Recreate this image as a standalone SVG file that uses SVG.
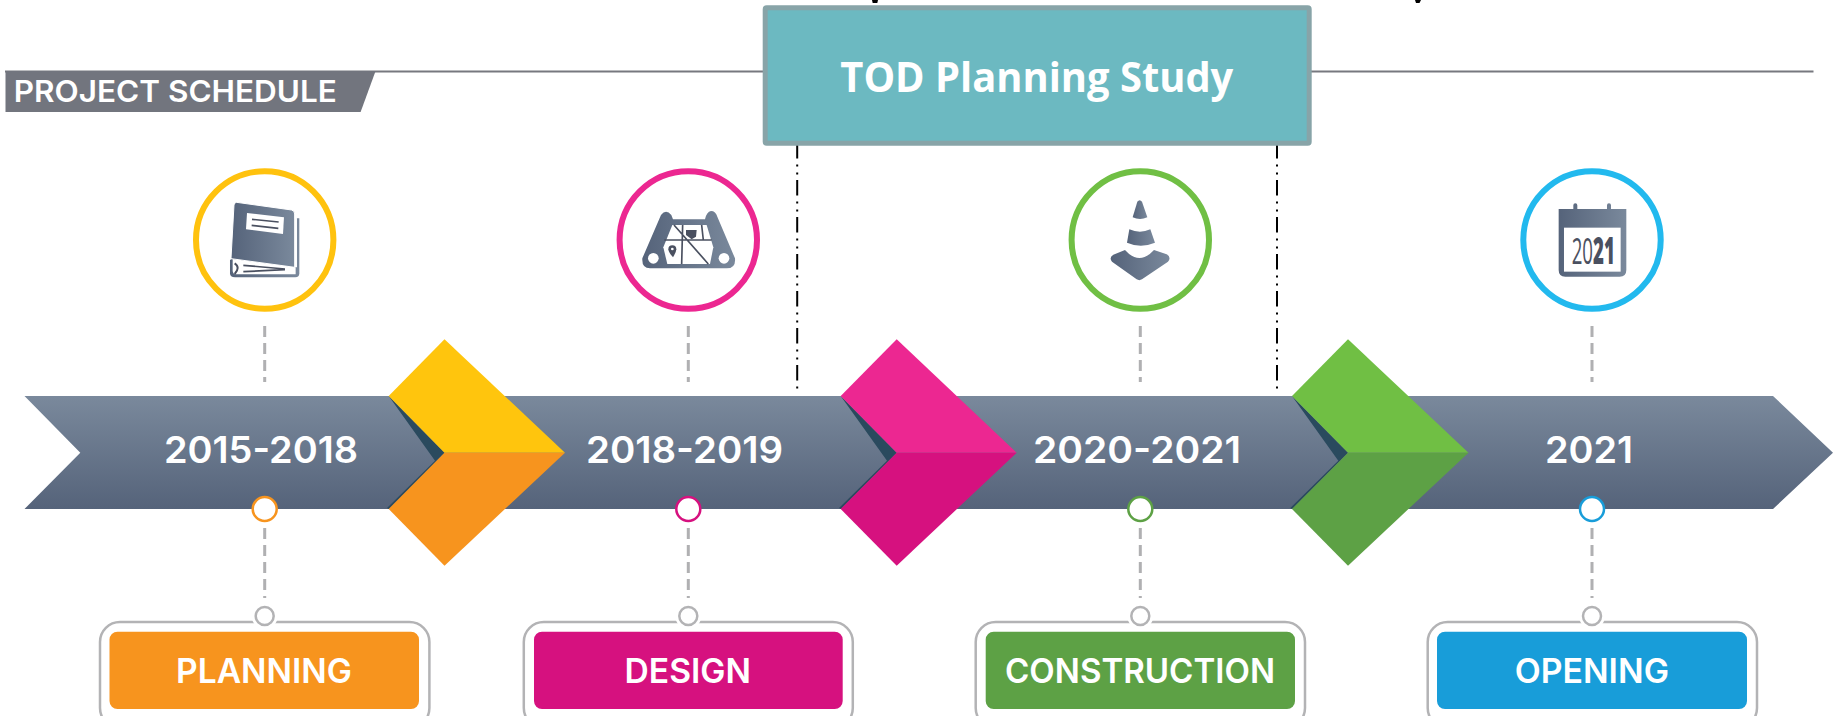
<svg xmlns="http://www.w3.org/2000/svg" width="1837" height="716" viewBox="0 0 1837 716">
<defs>
<linearGradient id="rib" x1="0" y1="0" x2="0" y2="1"><stop offset="0" stop-color="#7A899C"/><stop offset="1" stop-color="#55637A"/></linearGradient>
<linearGradient id="ico" x1="0" y1="0" x2="1" y2="0"><stop offset="0" stop-color="#55637A"/><stop offset="1" stop-color="#7A899C"/></linearGradient>
</defs>
<style>
.t{font-family:"Inter","Liberation Sans",sans-serif;font-weight:600;fill:#fff;text-anchor:start}
.yr{font-size:37px}
.lb{font-size:34px}
.dash{stroke:#b0b0b2;stroke-width:3;stroke-dasharray:11 6;fill:none}
.dd{stroke:#000;stroke-width:2;stroke-dasharray:15.5 6 2 6 2 5.5;fill:none}
.halo{fill:#fff}
.gr{fill:#fff;stroke:#b3b3b5;stroke-width:2.5}
.fr{fill:none;stroke:#b3b3b5;stroke-width:2.5}
.ic{fill:url(#ico)}
.dk{fill:#4a5060}
.sh{fill:#2A4A5E}
.ln{stroke:#4a5060;fill:none}
</style>
<rect width="1837" height="716" fill="#fff"/>
<g id="header">
<line x1="5" y1="71.5" x2="1813.5" y2="71.5" stroke="#77787f" stroke-width="2"/>
<polygon points="5.5,71 375.6,71 360.6,112 5.5,112" fill="#72757E"/>
<text x="13.8" y="102" class="t" font-size="30" textLength="323" lengthAdjust="spacingAndGlyphs">PROJECT SCHEDULE</text>
</g>
<g id="title-clip"><path d="M872,0h6l-.7,3h-4.6z M1415,0h6l-1.5,3h-3.5z" fill="#000"/></g>
<g id="ribbon">
<polygon points="24.5,396 1773,396 1833,452.7 1773,509 24.5,509 80.3,452.7" fill="url(#rib)"/>
</g>
<g id="connectors">
<path class="dd" d="M797.2,143V392M1277,143V392"/>
<path class="dash" d="M264.7,326V382M264.7,528V598M688.3,326V382M688.3,528V598M1140.3,326V382M1140.3,528V598M1592,326V382M1592,528V598"/>
</g>
<g id="tod">
<rect x="765.2" y="7.8" width="544" height="135.5" rx="1.5" fill="#6CB9C1" stroke="#88A4A8" stroke-width="5"/>
<text x="840.3" y="91.7" font-family="'Open Sans','Liberation Sans',sans-serif" font-weight="700" font-size="42" fill="#fff" textLength="393" lengthAdjust="spacingAndGlyphs">TOD Planning Study</text>
</g>
<g id="marker-1">
<polygon class="sh" points="388.7,396 444.5,452.7 388.7,509 387,508 435,460.7"/>
<polygon points="388.7,396 444.5,339.3 565,452.7 444.5,452.7" fill="#FFC50D"/>
<polygon points="388.7,509 444.5,452.7 565,452.7 444.5,565.7" fill="#F7941E"/>
</g>
<g id="marker-2">
<polygon class="sh" points="840.7,396 896.7,452.7 840.7,509 839,508 887,460.7"/>
<polygon points="840.7,396 896.7,339.3 1016.7,452.7 896.7,452.7" fill="#EC2791"/>
<polygon points="840.7,509 896.7,452.7 1016.7,452.7 896.7,565.7" fill="#D6117F"/>
</g>
<g id="marker-3">
<polygon class="sh" points="1292,396 1348,452.7 1292,509 1290.3,508 1338.3,460.7"/>
<polygon points="1292,396 1348,339.3 1468.5,452.7 1348,452.7" fill="#70BF44"/>
<polygon points="1292,509 1348,452.7 1468.5,452.7 1348,565.7" fill="#5DA145"/>
</g>
<g id="phase-planning">
<circle cx="264.7" cy="240" r="68.7" fill="#fff" stroke="#FFC20E" stroke-width="6"/>
<g transform="translate(180,160) scale(.3333)">
<path class="ic" d="M150,300 L345,175 L358,175 L358,340 Q358,352 346,352 L165,352 Q150,352 150,340Z"/>
<path fill="#fff" d="M158,297 L347,322 L347,343 L170,343 Q158,343 158,332Z"/>
<path fill="#fff" d="M344,160 L351,175 L351,322 L344,322Z"/>
<path class="ic" stroke="#fff" stroke-width="3" d="M170,127 L335,150 Q344,152 344,162 L344,322 L153,296 L162,135 Q163,127 170,127Z"/>
<polygon fill="#fff" points="201,159 312,172 309,222 198,208"/>
<path class="ln" stroke-width="5" d="M216,178L296,186M215,196L295,205"/>
<path class="ln" stroke-width="5" d="M190,316L315,327M190,335L315,329"/>
<path class="ln" stroke-width="6" d="M164,310Q182,322 164,342"/>
</g>
<rect x="109.5" y="631.7" width="309.5" height="77.3" rx="8" fill="#F7941E"/>
<rect class="fr" x="100" y="622" width="329.4" height="106" rx="20"/>
<circle class="halo" cx="264.7" cy="616" r="13"/>
<circle class="gr" cx="264.7" cy="616" r="9"/>
<circle cx="264.7" cy="509" r="12" fill="#fff" stroke="#F7941E" stroke-width="2.5"/>
<text x="176" y="683" class="t lb" textLength="176" lengthAdjust="spacingAndGlyphs">PLANNING</text>
<text x="164" y="463" class="t yr" textLength="194" lengthAdjust="spacingAndGlyphs">2015-2018</text>
</g>
<g id="phase-design">
<circle cx="688.3" cy="240" r="68.7" fill="#fff" stroke="#EC2791" stroke-width="6"/>
<g transform="translate(600,160) scale(.3333)">
<path class="ic" d="M183,165 Q198,145 214,165 L219,178 L315,178 Q320,155 333,153 Q347,153 352,170 L405,295 Q408,325 380,325 L150,325 Q125,325 127,295Z"/>
<polygon fill="#fff" points="217,195 320,195 340,262 330,312 202,312 190,262"/>
<circle cx="160" cy="295" r="16" fill="#fff"/><circle cx="372" cy="295" r="16" fill="#fff"/>
<path class="ln" stroke-width="5" d="M222,195L325,312M193,240L335,240M248,195L245,312M305,195L310,240"/>
<polygon class="dk" points="258,210 290,210 288,230 275,238 258,225"/>
<path class="dk" d="M205,268a12,12 0 1 1 24,0q0,8 -10,24q-14,-16 -14,-24Z"/>
<circle cx="217" cy="267" r="4" fill="#fff"/>
</g>
<rect x="534" y="631.7" width="308.7" height="77.3" rx="8" fill="#D6117F"/>
<rect class="fr" x="523.8" y="622" width="329" height="106" rx="20"/>
<circle class="halo" cx="688.3" cy="616" r="13"/>
<circle class="gr" cx="688.3" cy="616" r="9"/>
<circle cx="688.3" cy="509" r="12" fill="#fff" stroke="#D6117F" stroke-width="2.5"/>
<text x="624.5" y="683" class="t lb" textLength="126.5" lengthAdjust="spacingAndGlyphs">DESIGN</text>
<text x="586" y="463" class="t yr" textLength="197" lengthAdjust="spacingAndGlyphs">2018-2019</text>
</g>
<g id="phase-construction">
<circle cx="1140.3" cy="240" r="68.7" fill="#fff" stroke="#70BF44" stroke-width="6"/>
<g transform="translate(1050,160) scale(.3333)">
<path class="ic" d="M262,125 Q269,116 276,125 L292,172 Q270,182 248,172Z"/>
<path class="ic" d="M238,208 Q270,222 301,208 L315,248 Q272,266 231,248Z"/>
<path class="ic" d="M225,270 Q268,318 312,270 L350,283 Q365,292 354,305 L276,358 Q268,363 260,358 L186,305 Q176,293 190,284Z"/>
</g>
<rect x="985.7" y="631.7" width="309.3" height="77.3" rx="8" fill="#5DA145"/>
<rect class="fr" x="975.7" y="622" width="329.3" height="106" rx="20"/>
<circle class="halo" cx="1140.3" cy="616" r="13"/>
<circle class="gr" cx="1140.3" cy="616" r="9"/>
<circle cx="1140.3" cy="509" r="12" fill="#fff" stroke="#5DA145" stroke-width="2.5"/>
<text x="1005" y="683" class="t lb" textLength="270" lengthAdjust="spacingAndGlyphs">CONSTRUCTION</text>
<text x="1033" y="463" class="t yr" textLength="208" lengthAdjust="spacingAndGlyphs">2020-2021</text>
</g>
<g id="phase-opening">
<circle cx="1592" cy="240" r="68.7" fill="#fff" stroke="#22B9EE" stroke-width="6"/>
<g transform="translate(1500,160) scale(.3333)">
<path class="ic" d="M220,147 V136 a6,6 0 0 1 12,0 V147 H321 V136 a6,6 0 0 1 12,0 V147 H379 V330 Q379,350 359,350 H196 Q176,350 176,330 V147Z"/>
<rect x="192" y="203" width="170" height="132" fill="#fff"/>
</g>
<text transform="translate(1571.7,264) scale(.504,1)" font-family="'Open Sans','Liberation Sans',sans-serif" font-size="37" fill="#4a5060">20<tspan font-weight="800">21</tspan></text>
<rect x="1437" y="631.7" width="310" height="77.3" rx="8" fill="#189DD9"/>
<rect class="fr" x="1427.7" y="622" width="329.3" height="106" rx="20"/>
<circle class="halo" cx="1592" cy="616" r="13"/>
<circle class="gr" cx="1592" cy="616" r="9"/>
<circle cx="1592" cy="509" r="12" fill="#fff" stroke="#189DD9" stroke-width="2.5"/>
<text x="1514.7" y="683" class="t lb" textLength="154.3" lengthAdjust="spacingAndGlyphs">OPENING</text>
<text x="1545" y="463" class="t yr" textLength="88" lengthAdjust="spacingAndGlyphs">2021</text>
</g>
</svg>
